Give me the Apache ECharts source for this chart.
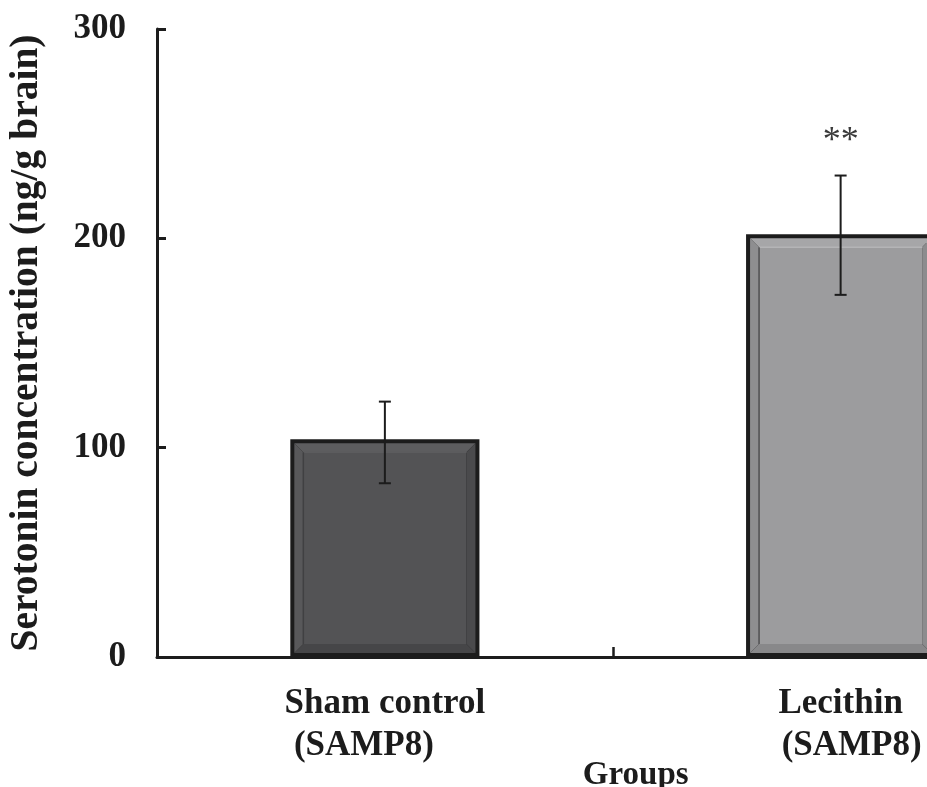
<!DOCTYPE html>
<html>
<head>
<meta charset="utf-8">
<title>Serotonin concentration</title>
<script src="https://cdn.jsdelivr.net/npm/echarts@6/dist/echarts.min.js"></script>
<style>
  html, body { margin: 0; padding: 0; background: #ffffff; }
  #chart { width: 927px; height: 787px; }
</style>
</head>
<body>
<div id="chart"></div>
<script>
// Group names (two lines each) and measured values
const groupNames = ['Sham control', 'Lecithin'];
const strainNames = ['(SAMP8)', '(SAMP8)'];
const meanValues = [104, 202];
const errorUpper = [122, 230];
const errorLower = [83, 173];
const significance = ['', '**'];
const yTicks = [0, 100, 200, 300];

const FONT = "'Liberation Serif', 'Times New Roman', serif";
const INK = '#1c1c1c';

// Bevelled bar appearance per group
const barLook = [
  { face: '#535355', top: '#5d5d5f', left: '#58585a', right: '#4a4a4c', bottom: '#464648', edgeLight: '#5c5c5e', edgeDark: '#404042' },
  { face: '#9c9c9e', top: '#a6a6a8', left: '#8e8e90', right: '#8c8c8e', bottom: '#88888a', edgeLight: '#b4b4b6', edgeDark: '#505052' }
];

const categories = groupNames.map((g, i) => g + '\n' + strainNames[i]);
const barData = meanValues.map((v, i) => [i, v]);
const errData = meanValues.map((v, i) => [i, errorLower[i], errorUpper[i], significance[i]]);

function renderBar(params, api) {
  const i = api.value(0);
  const base = api.coord([i, 0]);
  const top = api.coord([i, api.value(1)]);
  const w = api.size([1, 0])[0] * 0.415;
  const x0 = base[0] - w / 2, x1 = base[0] + w / 2;
  const y0 = top[1], y1 = base[1];
  const look = barLook[i];
  const b = 4;     // outer dark border
  const bv = 9;    // bevel width
  const ox0 = x0 + b, ox1 = x1 - b, oy0 = y0 + b, oy1 = y1 - b;
  const ix0 = ox0 + bv, ix1 = ox1 - bv, iy0 = oy0 + bv, iy1 = oy1 - bv;
  return {
    type: 'group',
    children: [
      { type: 'rect', shape: { x: x0, y: y0, width: w, height: y1 - y0 }, style: { fill: INK } },
      { type: 'polygon', shape: { points: [[ox0, oy0], [ox1, oy0], [ix1, iy0], [ix0, iy0]] }, style: { fill: look.top } },
      { type: 'polygon', shape: { points: [[ox0, oy0], [ix0, iy0], [ix0, iy1], [ox0, oy1]] }, style: { fill: look.left } },
      { type: 'polygon', shape: { points: [[ox1, oy0], [ox1, oy1], [ix1, iy1], [ix1, iy0]] }, style: { fill: look.right } },
      { type: 'polygon', shape: { points: [[ox0, oy1], [ix0, iy1], [ix1, iy1], [ox1, oy1]] }, style: { fill: look.bottom } },
      { type: 'rect', shape: { x: ix0, y: iy0, width: ix1 - ix0, height: iy1 - iy0 }, style: { fill: look.face } },
      { type: 'line', shape: { x1: ix0, y1: iy0, x2: ix1, y2: iy0 }, style: { stroke: look.edgeLight, lineWidth: 1.5 } },
      { type: 'line', shape: { x1: ix0, y1: iy0, x2: ix0, y2: iy1 }, style: { stroke: look.edgeDark, lineWidth: 1.5 } }
    ]
  };
}

function renderError(params, api) {
  const i = api.value(0);
  const lo = api.coord([i, api.value(1)]);
  const hi = api.coord([i, api.value(2)]);
  const cap = 6;
  const mark = significance[i];
  const children = [
    { type: 'line', shape: { x1: hi[0], y1: hi[1], x2: lo[0], y2: lo[1] }, style: { stroke: INK, lineWidth: 2 } },
    { type: 'line', shape: { x1: hi[0] - cap, y1: hi[1], x2: hi[0] + cap, y2: hi[1] }, style: { stroke: INK, lineWidth: 2 } },
    { type: 'line', shape: { x1: lo[0] - cap, y1: lo[1], x2: lo[0] + cap, y2: lo[1] }, style: { stroke: INK, lineWidth: 2 } }
  ];
  if (mark) {
    children.push({
      type: 'text',
      style: {
        text: mark, x: hi[0], y: hi[1] - 16,
        align: 'center', verticalAlign: 'bottom',
        font: '36px ' + FONT, fill: '#3a3a3a'
      }
    });
  }
  return { type: 'group', children };
}

const chart = echarts.init(document.getElementById('chart'), null, { renderer: 'canvas' });
chart.setOption({
  backgroundColor: '#ffffff',
  animation: false,
  grid: { left: 157, right: -141.5, top: 29, bottom: 130, containLabel: false, outerBoundsMode: 'none' },
  xAxis: {
    type: 'category',
    data: categories,
    boundaryGap: true,
    name: 'Groups',
    nameLocation: 'middle',
    nameGap: 102,
    nameMoveOverlap: false,
    nameTextStyle: { fontFamily: FONT, fontWeight: 'bold', fontSize: 33, color: INK, padding: [0, 0, 0, 46], verticalAlign: 'top' },
    axisLine: { lineStyle: { color: INK, width: 3 } },
    axisTick: { show: true, inside: true, length: 10, lineStyle: { color: INK, width: 2.5 } },
    axisLabel: {
      margin: 26,
      formatter: function (value, idx) {
        return '{g|' + groupNames[idx] + '}\n{s' + idx + '|' + strainNames[idx] + '}';
      },
      rich: {
        g: { fontFamily: FONT, fontWeight: 'bold', fontSize: 35, color: INK, lineHeight: 42 },
        s0: { fontFamily: FONT, fontWeight: 'bold', fontSize: 35, color: INK, lineHeight: 42, padding: [0, 42, 0, 0] },
        s1: { fontFamily: FONT, fontWeight: 'bold', fontSize: 35, color: INK, lineHeight: 42, padding: [0, 0, 0, 22] }
      }
    },
    splitLine: { show: false }
  },
  yAxis: {
    type: 'value',
    min: yTicks[0],
    max: yTicks[yTicks.length - 1],
    interval: 100,
    name: 'Serotonin concentration (ng/g brain)',
    nameLocation: 'middle',
    nameGap: 110,
    nameRotate: 90,
    nameTextStyle: { fontFamily: FONT, fontWeight: 'bold', fontSize: 39.5, color: INK },
    axisLine: { show: true, lineStyle: { color: INK, width: 3 } },
    axisTick: { show: true, inside: true, length: 9, lineStyle: { color: INK, width: 3 } },
    axisLabel: { margin: 31, fontFamily: FONT, fontWeight: 'bold', fontSize: 35, color: INK },
    splitLine: { show: false }
  },
  series: [
    { type: 'custom', renderItem: renderBar, data: barData, encode: { x: 0, y: 1 }, z: 2, clip: false },
    { type: 'custom', renderItem: renderError, data: errData, encode: { x: 0, y: [1, 2] }, z: 3, clip: false }
  ]
});
</script>
</body>
</html>
